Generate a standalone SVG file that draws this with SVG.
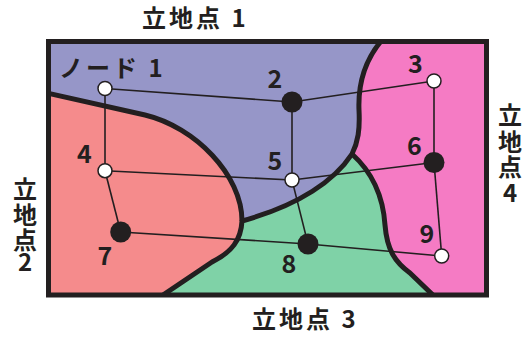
<svg xmlns="http://www.w3.org/2000/svg" width="522" height="338" viewBox="0 0 522 338">
<style>
.t{font-family:"Noto Sans CJK JP","Noto Sans",sans-serif;font-weight:bold;fill:#231f20;}
.lbl{font-size:24px;letter-spacing:3px;}
.num{font-size:25px;text-anchor:middle;}
.vt{font-size:24px;text-anchor:middle;}
.bd{fill:none;stroke:#231f20;stroke-width:5;stroke-linejoin:round;}
.e{stroke:#231f20;stroke-width:1.6;fill:none;}
.w{fill:#fff;stroke:#231f20;stroke-width:1.5;}
.b{fill:#231f20;}
</style>
<defs>
<clipPath id="cl"><rect x="48.5" y="41.5" width="438" height="253.5"/></clipPath>
</defs>
<g id="regions" clip-path="url(#cl)">
<rect x="40" y="30" width="460" height="280" fill="#f57bc4"/>
<path fill="#9696c8" d="M40,30 L386,30 L382,40 C365,60 358,85 359,110 C360,130 358,142 352,154 C335,180 300,205 242,221 C242,175 195,127 145,115 L47,93 L40,91 Z"/>
<path fill="#f58b8c" d="M40,91 L47,93 L145,115 C195,127 242,175 242,221 C241,240 232,252 212,262 L160,297 L155,305 L40,305 Z"/>
<path fill="#7fd2a7" d="M160,297 L212,262 C232,252 241,240 242,221 C300,205 335,180 352,154 C372,172 383,195 385,225 C387,250 395,262 410,273 L433,294 L440,305 L155,305 Z"/>
<path class="bd" d="M382,40 C365,60 358,85 359,110 C360,130 358,142 352,154 C335,180 300,205 242,221 C241,240 232,252 212,262 L160,297"/>
<path class="bd" d="M40,91 L47,93 L145,115 C195,127 242,175 242,221"/>
<path class="bd" d="M352,154 C372,172 383,195 385,225 C387,250 395,262 410,273 L436,298"/>
</g>
<rect id="frame" x="48.5" y="41.5" width="438" height="253.5" fill="none" stroke="#231f20" stroke-width="5"/>
<g id="connectors">
<line class="e" x1="105" y1="88.5" x2="292" y2="102"/>
<line class="e" x1="292" y1="102" x2="434" y2="81"/>
<line class="e" x1="105" y1="88.5" x2="105" y2="170.7"/>
<line class="e" x1="292" y1="102" x2="292" y2="180"/>
<line class="e" x1="434" y1="81" x2="434" y2="162.5"/>
<line class="e" x1="105" y1="170.7" x2="292" y2="180"/>
<line class="e" x1="292" y1="180" x2="434" y2="162.5"/>
<line class="e" x1="105" y1="170.7" x2="120.7" y2="232"/>
<line class="e" x1="292" y1="180" x2="308" y2="244"/>
<line class="e" x1="434" y1="162.5" x2="441.7" y2="256"/>
<line class="e" x1="120.7" y1="232" x2="308" y2="244"/>
<line class="e" x1="308" y1="244" x2="441.7" y2="256"/>
</g>
<g id="node1"><circle class="w" cx="105" cy="88.5" r="7"/><text class="t lbl" x="59" y="77">ノード 1</text></g>
<g id="node2"><circle class="b" cx="292" cy="102" r="10.5"/><text class="t num" x="275" y="88">2</text></g>
<g id="node3"><circle class="w" cx="434" cy="81" r="7"/><text class="t num" x="415.5" y="73">3</text></g>
<g id="node4"><circle class="w" cx="105" cy="170.7" r="7"/><text class="t num" x="84.5" y="163">4</text></g>
<g id="node5"><circle class="w" cx="292" cy="180" r="7"/><text class="t num" x="275" y="170">5</text></g>
<g id="node6"><circle class="b" cx="434" cy="162.5" r="10.5"/><text class="t num" x="414.5" y="155">6</text></g>
<g id="node7"><circle class="b" cx="120.7" cy="232" r="10.5"/><text class="t num" x="105" y="265">7</text></g>
<g id="node8"><circle class="b" cx="308" cy="244" r="10.5"/><text class="t num" x="289" y="273">8</text></g>
<g id="node9"><circle class="w" cx="441.7" cy="256" r="7"/><text class="t num" x="427" y="243">9</text></g>
<g id="site1"><text class="t lbl" x="142" y="27">立地点 1</text></g>
<g id="site3"><text class="t lbl" x="252" y="328">立地点 3</text></g>
<g id="site2"><text class="t vt"><tspan x="25" y="198">立</tspan><tspan x="25" y="224">地</tspan><tspan x="25" y="249">点</tspan><tspan x="25" y="271">2</tspan></text></g>
<g id="site4"><text class="t vt"><tspan x="510" y="124">立</tspan><tspan x="510" y="151">地</tspan><tspan x="510" y="176">点</tspan><tspan x="510" y="202">4</tspan></text></g>
</svg>
